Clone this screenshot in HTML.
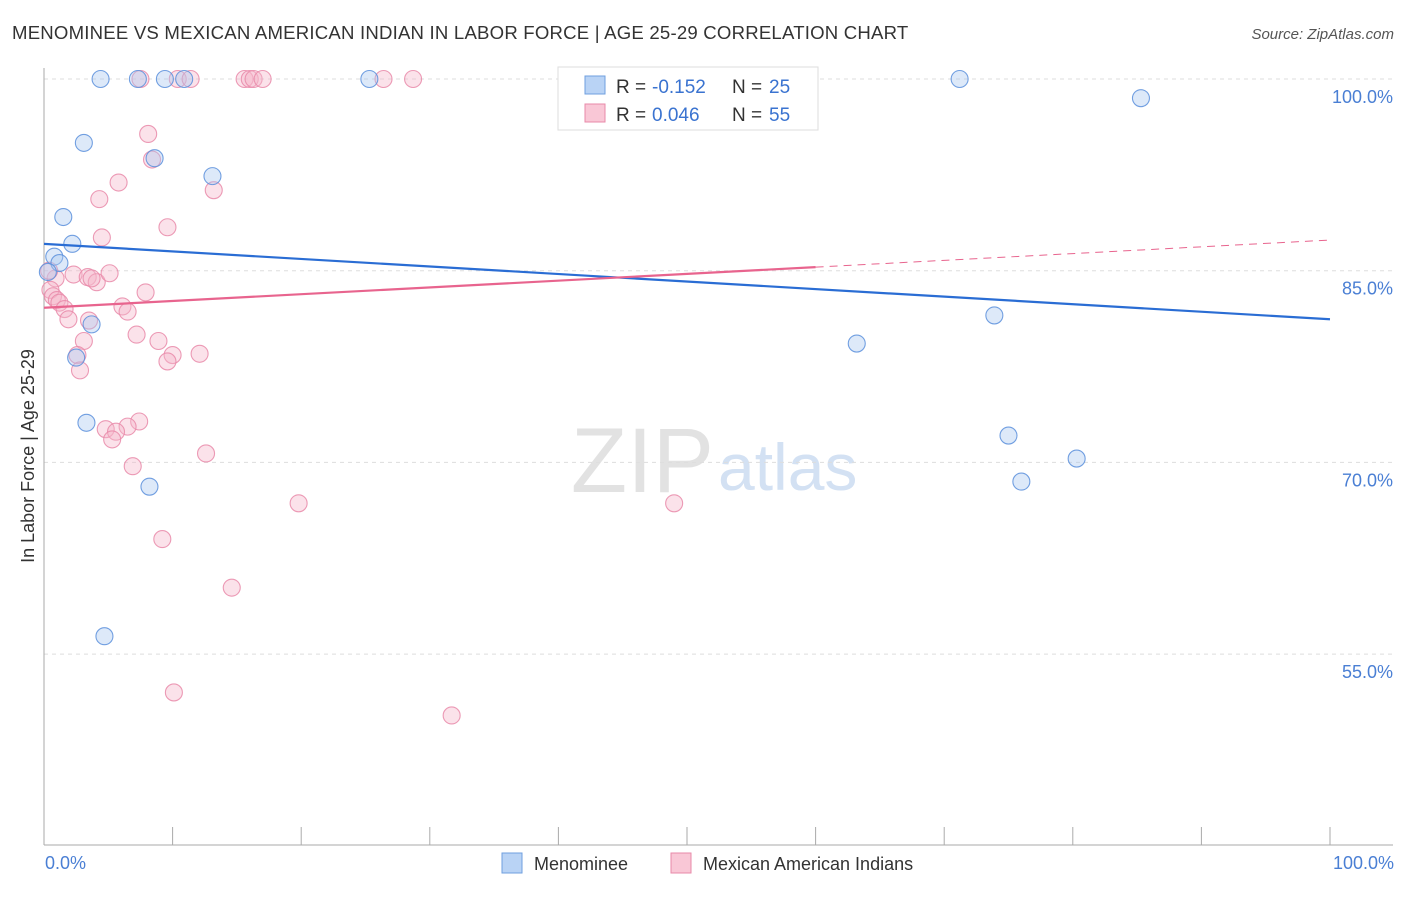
<!DOCTYPE html>
<html><head><meta charset="utf-8"><style>
body{margin:0;background:#fff;font-family:"Liberation Sans",sans-serif;}
svg text{font-family:"Liberation Sans",sans-serif;}
</style></head><body>
<svg id="chart" width="1406" height="892" xmlns="http://www.w3.org/2000/svg">
<text x="12" y="39" font-size="18.6" fill="#333" letter-spacing="0.2">MENOMINEE VS MEXICAN AMERICAN INDIAN IN LABOR FORCE | AGE 25-29 CORRELATION CHART</text>
<text x="1394" y="39" font-size="15" fill="#555" font-style="italic" text-anchor="end">Source: ZipAtlas.com</text>
<text x="714" y="492" font-size="92" fill="#e2e2e2" font-family="Liberation Serif" text-anchor="end">ZIP</text>
<text x="718" y="490" font-size="66" fill="#d3e1f3">atlas</text>
<g id="grid"></g>
<g id="axes"></g>
<g id="pts"></g>
<g id="lines"></g>
<text transform="translate(34,456) rotate(-90)" font-size="18" fill="#333" text-anchor="middle">In Labor Force | Age 25-29</text>
<text x="45" y="869" font-size="18" fill="#4a7fd4">0.0%</text>
<text x="1394" y="869" font-size="18" fill="#4a7fd4" text-anchor="end">100.0%</text>
<g>
<rect x="558" y="67" width="260" height="63" fill="#fff" stroke="#ddd"/>
<rect x="585" y="76" width="20" height="18" fill="#b9d3f5" stroke="#6f9fdf"/>
<rect x="585" y="104" width="20" height="18" fill="#f9c7d6" stroke="#e88aa8"/>
<text x="616" y="93" font-size="19" fill="#333">R = </text>
<text x="652" y="93" font-size="19" fill="#3a73d0">-0.152</text>
<text x="732" y="93" font-size="19" fill="#333">N = </text>
<text x="769" y="93" font-size="19" fill="#3a73d0">25</text>
<text x="616" y="121" font-size="19" fill="#333">R = </text>
<text x="652" y="121" font-size="19" fill="#3a73d0">0.046</text>
<text x="732" y="121" font-size="19" fill="#333">N = </text>
<text x="769" y="121" font-size="19" fill="#3a73d0">55</text>
</g>
<g>
<rect x="502" y="853" width="20" height="20" fill="#b9d3f5" stroke="#6f9fdf"/>
<text x="534" y="870" font-size="18" fill="#333">Menominee</text>
<rect x="671" y="853" width="20" height="20" fill="#f9c7d6" stroke="#e88aa8"/>
<text x="703" y="870" font-size="18" fill="#333">Mexican American Indians</text>
</g>
</svg>
<script>
const blueX=[4.4,7.3,9.4,10.9,25.3,71.2,85.3,3.1,8.6,13.1,1.5,2.2,0.8,1.2,0.3,3.7,2.5,3.3,8.2,4.7,63.2,73.9,75.0,76.0,80.3];
const blueY=[100,100,100,100,100,100,98.5,95.0,93.8,92.4,89.2,87.1,86.1,85.6,84.9,80.8,78.2,73.1,68.1,56.4,79.3,81.5,72.1,68.5,70.3];
const pinkX=[7.5,10.4,11.4,15.6,16.0,16.3,17.0,26.4,28.7,51.2,8.1,8.4,5.8,13.2,4.3,9.6,4.5,0.9,2.3,3.4,4.1,5.1,3.7,0.5,0.7,1.0,1.2,1.6,1.9,7.9,6.1,6.5,3.5,7.2,3.1,8.9,10.0,9.6,12.1,2.6,2.8,7.4,6.5,4.8,5.6,5.3,6.9,12.6,19.8,49.0,9.2,14.6,10.1,31.7,0.4];
const pinkY=[100,100,100,100,100,100,100,100,100,100,95.7,93.7,91.9,91.3,90.6,88.4,87.6,84.4,84.7,84.5,84.1,84.8,84.4,83.5,83.0,82.7,82.5,82.0,81.2,83.3,82.2,81.8,81.1,80.0,79.5,79.5,78.4,77.9,78.5,78.4,77.2,73.2,72.8,72.6,72.4,71.8,69.7,70.7,66.8,66.8,64.0,60.2,52.0,50.2,85.0];
const yTicks=[100,85,70,55];
const yTickLabels=["100.0%","85.0%","70.0%","55.0%"];
const blueTrend=[87.1,81.2];
const pinkTrend=[82.1,87.4];
const pinkSolidEnd=60;
const NS="http://www.w3.org/2000/svg";
const sx=v=>44+v*12.86;
const sy=v=>79+(100-v)*12.78;
function mk(tag,attrs,parent){const e=document.createElementNS(NS,tag);for(const k in attrs)e.setAttribute(k,attrs[k]);parent.appendChild(e);return e;}
const grid=document.getElementById('grid'),axes=document.getElementById('axes'),pts=document.getElementById('pts'),lines=document.getElementById('lines');
yTicks.forEach((t,i)=>{
 const l=mk('line',{x1:44,x2:1393,y1:sy(t),y2:sy(t),stroke:'#ddd','stroke-dasharray':'4,4'},grid);
 
 
 const tx=mk('text',{x:1393,y:sy(t)+24,'font-size':18,fill:'#4a7fd4','text-anchor':'end'},grid);
 tx.textContent=yTickLabels[i];
 
 
});
const ya=mk('line',{x1:44,x2:44,y1:68,y2:845,stroke:'#aaa'},axes);


const xa=mk('line',{x1:44,x2:1393,y1:845,y2:845,stroke:'#aaa'},axes);


for(let i=0;i<=10;i++){const t=mk('line',{x1:sx(i*10),x2:sx(i*10),y1:827,y2:845,stroke:'#aaa'},axes);
 
 }
function dots(X,Y,fill,stroke,name){X.forEach((x,i)=>{const c=mk('circle',{cx:sx(x),cy:sy(Y[i]),r:8.5,fill:fill,'fill-opacity':0.4,stroke:stroke,'stroke-width':1.1,'stroke-opacity':0.85},pts);
 
 });}
dots(pinkX,pinkY,'#f6b6ca','#e98aa9','mexican-american-indian-point');
dots(blueX,blueY,'#a9c8f0','#5b8fdc','menominee-point');
const bl=mk('line',{x1:sx(0),y1:sy(blueTrend[0]),x2:sx(100),y2:sy(blueTrend[1]),stroke:'#2a6dd4','stroke-width':2.2},lines);


const pm=pinkTrend[0]+(pinkTrend[1]-pinkTrend[0])*pinkSolidEnd/100;
const pl=mk('line',{x1:sx(0),y1:sy(pinkTrend[0]),x2:sx(pinkSolidEnd),y2:sy(pm),stroke:'#e8648e','stroke-width':2.2},lines);


const pd=mk('line',{x1:sx(pinkSolidEnd),y1:sy(pm),x2:sx(100),y2:sy(pinkTrend[1]),stroke:'#e8648e','stroke-width':1,'stroke-dasharray':'8,6'},lines);


</script>
</body></html>
